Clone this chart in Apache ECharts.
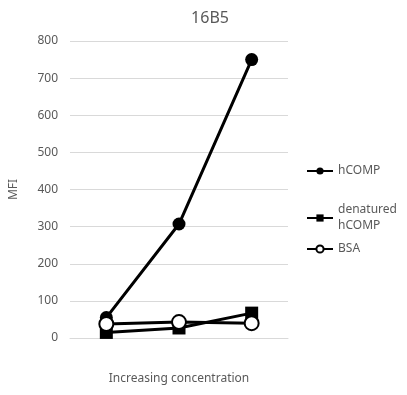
<!DOCTYPE html>
<html><head><meta charset="utf-8">
<script src="https://cdn.jsdelivr.net/npm/echarts@6/dist/echarts.min.js"></script>
<style>html,body{margin:0;padding:0;background:#fff}#c{width:407px;height:395px}</style>
</head><body><div id="c"></div>
<script>
var categories = ['1', '2', '3'];
var hCOMP = [55, 307, 750];
var denatured = [15, 27, 67];
var BSA = [38, 43, 40];
var yTicks = [0, 100, 200, 300, 400, 500, 600, 700, 800];
var seriesNames = ['hCOMP', 'denatured\nhCOMP', 'BSA'];

var font = 'Noto Sans';
var legendText = { color: '#595959', fontSize: 12, fontFamily: font, lineHeight: 16 };
function mkLegend(name, top) {
  return { orient: 'vertical', left: 306, top: top, padding: 0, itemWidth: 26, itemHeight: 9,
    textStyle: legendText, data: [name] };
}
var chart = echarts.init(document.getElementById('c'));
chart.setOption({
  animation: false,
  title: { text: '16B5', left: 205, top: 5, textAlign: 'center',
    textStyle: { color: '#595959', fontSize: 16, fontWeight: 'normal', fontFamily: font } },
  grid: { left: 67, right: 119, top: 41, bottom: 57 },
  legend: [mkLegend(seriesNames[0], 163), mkLegend(seriesNames[1], 202), mkLegend(seriesNames[2], 241)],
  xAxis: {
    type: 'category', data: categories,
    name: 'Increasing concentration', nameLocation: 'middle', nameGap: 35,
    nameTextStyle: { color: '#595959', fontSize: 12, fontFamily: font },
    axisLabel: { show: false }, axisTick: { show: false },
    axisLine: { lineStyle: { color: '#d9d9d9' } }
  },
  yAxis: {
    type: 'value', min: 0, max: 800, interval: 100,
    name: 'MFI', nameLocation: 'middle', nameGap: 50,
    nameTextStyle: { color: '#595959', fontSize: 12, fontFamily: font },
    axisLabel: { color: '#595959', fontSize: 12, fontFamily: font, margin: 12,
      formatter: function (v) { return yTicks.indexOf(v) >= 0 ? String(v) : ''; } },
    splitLine: { lineStyle: { color: '#d9d9d9' } },
    axisLine: { show: false }, axisTick: { show: false }
  },
  series: [
    { name: seriesNames[0], type: 'line', data: hCOMP, symbol: 'circle', symbolSize: 13,
      lineStyle: { color: '#000', width: 3 }, itemStyle: { color: '#000' } },
    { name: seriesNames[1], type: 'line', data: denatured, symbol: 'rect', symbolSize: 13,
      lineStyle: { color: '#000', width: 3 }, itemStyle: { color: '#000' } },
    { name: seriesNames[2], type: 'line', data: BSA, symbol: 'circle', symbolSize: 14,
      lineStyle: { color: '#000', width: 3 },
      itemStyle: { color: '#fff', borderColor: '#000', borderWidth: 2 } }
  ]
});
</script></body></html>
